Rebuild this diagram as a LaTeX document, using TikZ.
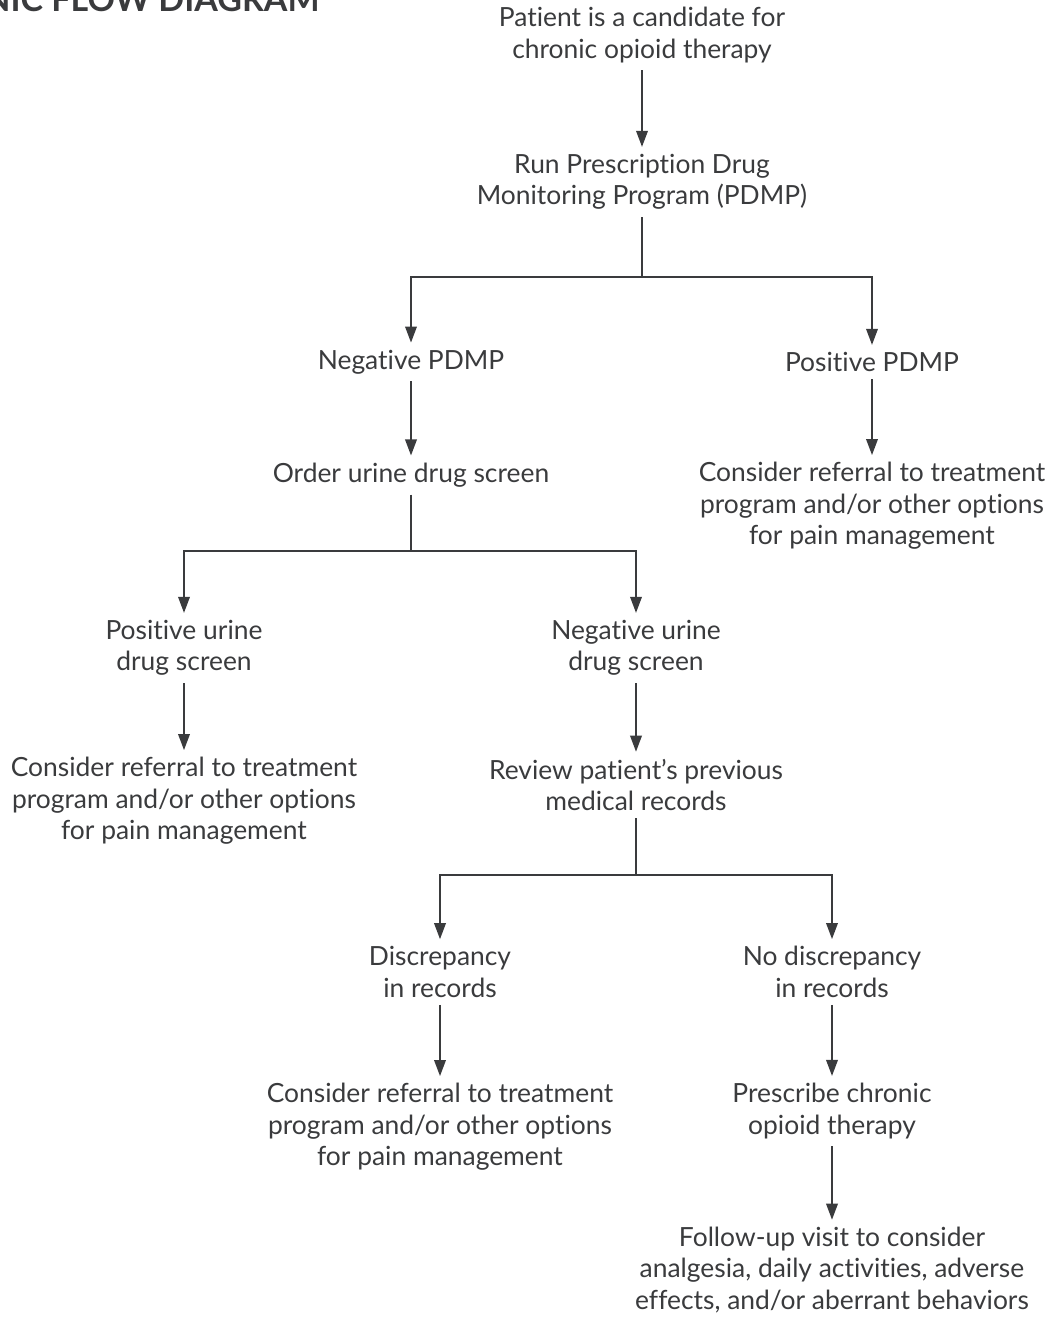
\documentclass[tikz,border=0pt]{standalone}
\usepackage{fontspec}
\setmainfont{Lato}[Ligatures={NoCommon,NoRequired,NoContextual}]
\usetikzlibrary{arrows.meta}

\definecolor{ink}{HTML}{3A3B3D}

\tikzset{
  step box/.style={align=center, text=ink, inner sep=3.5pt,
    font=\fontsize{13.2}{15.7}\selectfont},
  arr/.style={draw=ink, line width=0.8pt, -{Triangle[length=8pt,width=5.8pt]}},
  ln/.style={draw=ink, line width=0.8pt}
}

\begin{document}
\begin{tikzpicture}[x=0.5pt, y=-0.5pt]

    \useasboundingbox (0,0) rectangle (1050,1317);

    % cut off heading
    \node[anchor=base west, inner sep=0, text=ink, font=\fontsize{17}{19}\bfseries\selectfont]
      (title) at (-16,11) {NIC FLOW DIAGRAM};

    % boxes
    \node[step box] (cand) at (642,35) {Patient is a candidate for\\chronic opioid therapy};
    \node[step box] (pdmp) at (642,182) {Run Prescription Drug\\Monitoring Program (PDMP)};
    \node[step box] (negpdmp) at (411,362) {Negative PDMP};
    \node[step box] (pospdmp) at (872,362) {Positive PDMP};
    \node[step box] (refA) at (872,506) {Consider referral to treatment\\program and/or other options\\for pain management};
    \node[step box] (uds) at (411,475) {Order urine drug screen};
    \node[step box] (posuds) at (184,648) {Positive urine\\drug screen};
    \node[step box] (neguds) at (636,648) {Negative urine\\drug screen};
    \node[step box] (refB) at (184,801) {Consider referral to treatment\\program and/or other options\\for pain management};
    \node[step box] (review) at (636,785) {Review patient’s previous\\medical records};
    \node[step box] (disc) at (440,972) {Discrepancy\\in records};
    \node[step box] (nodisc) at (832,972) {No discrepancy\\in records};
    \node[step box] (refC) at (440,1127) {Consider referral to treatment\\program and/or other options\\for pain management};
    \node[step box] (rx) at (832,1111) {Prescribe chronic\\opioid therapy};
    \node[step box] (follow) at (832,1270) {Follow-up visit to consider\\analgesia, daily activities, adverse\\effects, and/or aberrant behaviors};

    % split points
    \coordinate (s1) at (642,277);
    \coordinate (s2) at (411,551);
    \coordinate (s3) at (636,875);

    % connectors
    \draw[arr] (cand) -- (pdmp);
    \draw[ln] (pdmp) -- (s1);
    \draw[arr] (s1) -| (negpdmp);
    \draw[arr] (s1) -| (pospdmp);
    \draw[arr] (pospdmp) -- (refA);
    \draw[arr] (negpdmp) -- (uds);
    \draw[ln] (uds) -- (s2);
    \draw[arr] (s2) -| (posuds);
    \draw[arr] (s2) -| (neguds);
    \draw[arr] (posuds) -- (refB);
    \draw[arr] (neguds) -- (review);
    \draw[ln] (review) -- (s3);
    \draw[arr] (s3) -| (disc);
    \draw[arr] (s3) -| (nodisc);
    \draw[arr] (disc) -- (refC);
    \draw[arr] (nodisc) -- (rx);
    \draw[arr] (rx) -- (follow);

\end{tikzpicture}
\end{document}
